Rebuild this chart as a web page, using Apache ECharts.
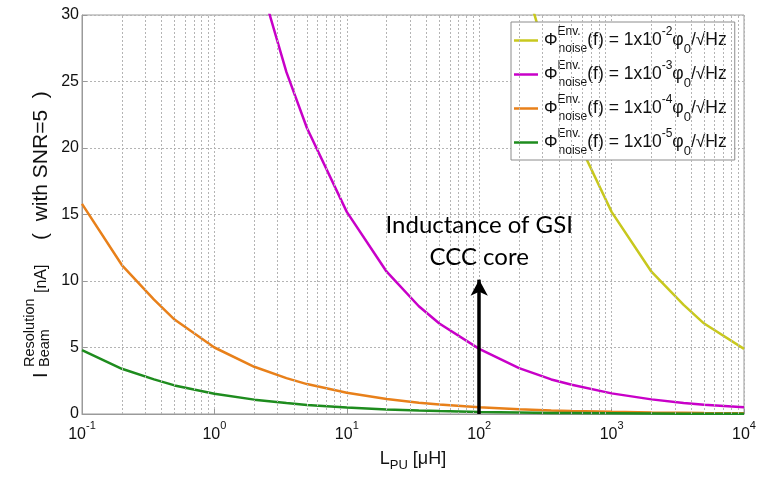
<!DOCTYPE html>
<html>
<head>
<meta charset="utf-8">
<script src="https://cdn.jsdelivr.net/npm/echarts@6/dist/echarts.min.js"></script>
<style>
  html, body { margin: 0; padding: 0; background: #ffffff; }
  #chart { width: 767px; height: 477px; }
</style>
</head>
<body>
<div id="chart"></div>
<script>
// Pick-up inductance L_PU in µH (sample points of every curve)
const inductance = [0.1, 0.2, 0.35, 0.5, 1, 2, 3.5, 5, 10, 20, 35, 50, 100, 200, 350, 500, 1000, 2000, 3500, 5000, 10000];

// Beam current resolution in nA for each environmental noise level (SNR = 5)
const noise1e2 = [null, null, null, null, null, null, null, null, null, null, null, null, null, 34.0, 25.7, 21.5, 15.2, 10.7, 8.2, 6.8, 4.9];
const noise1e3 = [null, null, null, null, null, 34.0, 25.7, 21.5, 15.2, 10.7, 8.1, 6.8, 4.9, 3.45, 2.6, 2.2, 1.55, 1.1, 0.83, 0.7, 0.5];
const noise1e4 = [15.8, 11.2, 8.6, 7.1, 5.0, 3.55, 2.7, 2.25, 1.6, 1.12, 0.85, 0.71, 0.5, 0.36, 0.27, 0.22, 0.16, 0.11, 0.085, 0.07, 0.05];
const noise1e5 = [4.8, 3.4, 2.6, 2.15, 1.52, 1.08, 0.82, 0.68, 0.48, 0.34, 0.26, 0.22, 0.15, 0.11, 0.08, 0.07, 0.05, 0.035, 0.026, 0.022, 0.015];

const noiseExponents = ['-2', '-3', '-4', '-5'];
const seriesValues = [noise1e2, noise1e3, noise1e4, noise1e5];
const seriesColors = ['#c8c81e', '#c800c8', '#e8801a', '#1e8c1e'];

// GSI CCC core inductance marker (µH) and arrow tip (nA)
const gsiInductance = 100;
const arrowTip = 10.1;

const yTicks = [0, 5, 10, 15, 20, 25, 30];

// Minor logarithmic grid positions: 2..9 within every decade
const decades = [0.1, 1, 10, 100, 1000];
const minorGrid = [];
decades.forEach(d => { for (let k = 2; k <= 9; k++) minorGrid.push(+(d * k).toPrecision(3)); });

const FONT = '"Liberation Sans", Arial, sans-serif';
const seriesNames = noiseExponents.map(e => 'noise 1x10^' + e);

const chart = echarts.init(document.getElementById('chart'), null, { renderer: 'canvas' });

const gridLineStyle = { color: '#b4b4b4', width: 1, type: [2, 2] };

const curveSeries = seriesValues.map((vals, i) => ({
  name: seriesNames[i],
  type: 'line',
  symbol: 'none',
  smooth: false,
  clip: true,
  z: 3,
  lineStyle: { color: seriesColors[i], width: 2.5 },
  itemStyle: { color: seriesColors[i] },
  data: inductance.map((x, j) => vals[j] == null ? null : [x, vals[j]]).filter(p => p !== null)
}));

// Arrow pointing at the GSI core inductance, carried by the last curve
curveSeries[3].markLine = {
  silent: true,
  symbol: ['none', 'arrow'],
  symbolSize: [13, 16],
  lineStyle: { color: '#000000', width: 3.5, type: 'solid' },
  label: {
    show: true,
    position: 'end',
    distance: 6,
    formatter: 'Inductance of GSI\nCCC core',
    color: '#000000',
    fontFamily: 'Lato, "Open Sans", sans-serif',
    fontSize: 24,
    lineHeight: 32,
    align: 'center'
  },
  data: [[{ coord: [gsiInductance, 0] }, { coord: [gsiInductance, arrowTip] }]]
};

const option = {
  animation: false,
  backgroundColor: '#ffffff',
  grid: {
    left: 82, right: 23, top: 15, bottom: 55,
    show: true, borderColor: '#9a9a9a', borderWidth: 1, backgroundColor: 'transparent'
  },
  legend: {
    data: seriesNames,
    orient: 'vertical',
    left: 511, top: 22,
    padding: [3, 8, 2, 3],
    itemGap: 3,
    icon: 'rect',
    itemWidth: 24, itemHeight: 2.5,
    backgroundColor: '#ffffff',
    borderColor: '#8c8c8c', borderWidth: 1,
    borderRadius: 0,
    selectedMode: false,
    formatter: name => {
      const e = noiseExponents[seriesNames.indexOf(name)];
      return '{ph|Φ}{sup|Env.}{sub|noise}{t|(f) = 1x10}{ex|' + e + '}{t|φ}{s0|0}{t|/√Hz}';
    },
    textStyle: {
      color: '#111111',
      fontFamily: FONT,
      fontSize: 17,
      padding: [0, 0, 0, 1],
      rich: {
        ph: { fontFamily: FONT, fontSize: 17, lineHeight: 31, color: '#111' },
        sup: { fontFamily: FONT, fontSize: 12, lineHeight: 14, height: 14, verticalAlign: 'top', width: 1, color: '#111' },
        sub: { fontFamily: FONT, fontSize: 12, lineHeight: 14, height: 14, verticalAlign: 'bottom', color: '#111' },
        t: { fontFamily: FONT, fontSize: 17.5, lineHeight: 31, color: '#111' },
        ex: { fontFamily: FONT, fontSize: 12, lineHeight: 14, height: 14, verticalAlign: 'top', color: '#111' },
        s0: { fontFamily: FONT, fontSize: 13, lineHeight: 14, height: 14, verticalAlign: 'bottom', color: '#111' }
      }
    }
  },
  xAxis: {
    type: 'log',
    logBase: 10,
    min: 0.1,
    max: 10000,
    name: '{l|L}{s|PU}{l| [μH]}',
    nameLocation: 'middle',
    nameGap: 32,
    nameTextStyle: {
      rich: {
        l: { fontFamily: FONT, fontSize: 18, color: '#111', lineHeight: 26 },
        s: { fontFamily: FONT, fontSize: 13, color: '#111', lineHeight: 14, height: 14, verticalAlign: 'bottom' }
      }
    },
    axisLine: { show: true, lineStyle: { color: '#9a9a9a', width: 1 } },
    axisTick: { show: true, inside: true, length: 5, lineStyle: { color: '#9a9a9a' } },
    splitLine: { show: true, lineStyle: gridLineStyle },
    axisLabel: {
      margin: 6,
      formatter: v => '{b|10}{e|' + Math.round(Math.log10(v)) + '}',
      rich: {
        b: { fontFamily: FONT, fontSize: 16, color: '#111', lineHeight: 22, padding: [8, 0, 0, 0] },
        e: { fontFamily: FONT, fontSize: 11, color: '#111', lineHeight: 12, height: 12, verticalAlign: 'top' }
      }
    }
  },
  yAxis: {
    type: 'value',
    min: yTicks[0],
    max: yTicks[yTicks.length - 1],
    interval: yTicks[1] - yTicks[0],
    axisLine: { show: true, lineStyle: { color: '#9a9a9a', width: 1 } },
    axisTick: { show: true, inside: true, length: 5, lineStyle: { color: '#9a9a9a' } },
    splitLine: { show: true, lineStyle: gridLineStyle },
    axisLabel: { fontFamily: FONT, fontSize: 16, color: '#111', margin: 3 }
  },
  series: [
    {
      name: 'minor grid',
      type: 'line',
      data: [],
      z: 1,
      silent: true,
      markLine: {
        silent: true,
        symbol: ['none', 'none'],
        label: { show: false },
        lineStyle: gridLineStyle,
        data: minorGrid.map(x => ({ xAxis: x }))
      }
    }
  ].concat(curveSeries),
  graphic: [
    {
      // Rotated y-axis title: I with stacked super/subscripts, unit and SNR note
      type: 'group',
      x: 50, y: 378,
      rotation: Math.PI / 2,
      children: [
        { type: 'text', x: 0, y: -9, style: { text: 'I', font: '20px ' + FONT, fill: '#111', verticalAlign: 'middle', align: 'left' } },
        { type: 'text', x: 11, y: -20, style: { text: 'Resolution', font: '14.5px ' + FONT, fill: '#111', verticalAlign: 'middle', align: 'left' } },
        { type: 'text', x: 11, y: -5, style: { text: 'Beam', font: '14.5px ' + FONT, fill: '#111', verticalAlign: 'middle', align: 'left' } },
        { type: 'text', x: 85, y: -8, style: { text: '[nA]', font: '16px ' + FONT, fill: '#111', verticalAlign: 'middle', align: 'left' } },
        { type: 'text', x: 138, y: -9, style: { text: '(  with SNR=5  )', font: '21px ' + FONT, fill: '#111', verticalAlign: 'middle', align: 'left' } }
      ]
    }
  ]
};

chart.setOption(option);
</script>
</body>
</html>
